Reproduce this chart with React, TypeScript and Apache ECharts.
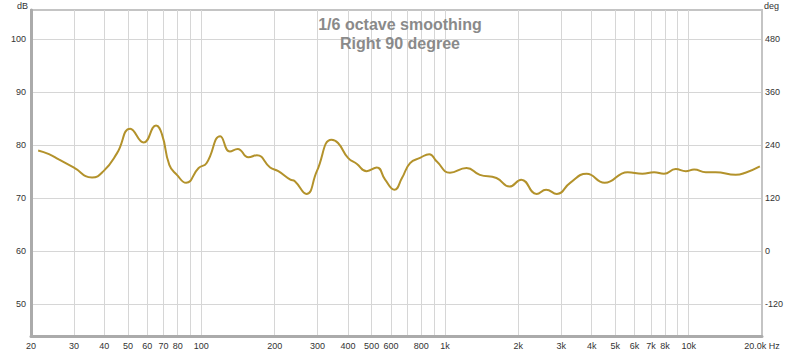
import React, { useEffect, useRef } from "react";
import * as echarts from "echarts";

const freqs = [
  21.4, 23.7, 26, 29.9, 35.6, 39.7, 45.1, 51.1, 58, 65.2, 69, 73.9, 79.4, 86.6, 97.5, 105,
  119.6, 131, 141, 156, 169, 191.6, 207, 232, 242, 270, 298, 342, 364, 400, 434, 477, 525,
  568, 620, 666, 719, 790, 862, 926, 1048, 1226, 1390, 1626, 1840, 2056, 2378, 2600, 2878,
  3264, 3814, 4520, 5620, 6460, 7210, 7920, 8850, 9730, 10530, 11760, 12900, 15600, 17100, 19600,
];
const spl = [
  79.0, 78.3, 77.3, 75.8, 73.9, 75.1, 78.5, 83.1, 80.5, 83.7, 82.0, 76.3, 74.4, 72.9, 75.7, 76.6,
  81.7, 78.8, 79.3, 77.7, 78.1, 75.8, 75.1, 73.5, 73.2, 70.8, 75.1, 81.0, 80.4, 77.6, 76.5, 75.1, 75.8,
  73.5, 71.6, 73.8, 76.6, 77.6, 78.3, 76.9, 74.8, 75.7, 74.4, 73.8, 72.2, 73.5, 70.8, 71.6, 70.8,
  72.9, 74.6, 72.9, 74.9, 74.6, 74.9, 74.6, 75.5, 75.1, 75.4, 74.9, 74.9, 74.4, 74.8, 76.0,
];

const gridFreqs = [
  20, 30, 40, 50, 60, 70, 80, 90, 100, 200, 300, 400, 500, 600, 700, 800, 900,
  1000, 2000, 3000, 4000, 5000, 6000, 7000, 8000, 9000, 10000, 20000,
];
const labelFreqs = [
  20, 30, 40, 50, 60, 70, 80, 100, 200, 300, 400, 500, 600, 800, 1000,
  2000, 3000, 4000, 5000, 6000, 7000, 8000, 10000, 20000,
];
const labelTexts = [
  "20", "30", "40", "50", "60", "70", "80", "100", "200", "300", "400", "500", "600", "800", "1k",
  "2k", "3k", "4k", "5k", "6k", "7k", "8k", "10k", "20.0k Hz",
];
const dbTicks = [50, 60, 70, 80, 90, 100];
const degTicks = [-120, 0, 120, 240, 360, 480];

const FONT = "'Liberation Sans', Arial, sans-serif";
const TICK_SIZE = 9;

export default function App() {
  const ref = useRef<HTMLDivElement>(null);
  useEffect(() => {
    if (!ref.current) return;
    const chart = echarts.init(ref.current, null, { renderer: "svg" });
    const labelFor = (v: number) => {
      for (let i = 0; i < labelFreqs.length; i++) {
        if (Math.abs(labelFreqs[i] - v) / labelFreqs[i] < 0.001) return labelTexts[i];
      }
      return "";
    };
    chart.setOption({
      animation: false,
      backgroundColor: "#ffffff",
      title: {
        text: "1/6 octave smoothing\nRight 90 degree",
        left: "center",
        top: 10,
        textStyle: {
          fontFamily: FONT,
          fontSize: 16,
          fontWeight: "bold",
          color: "#8a8a8a",
          lineHeight: 19,
          align: "center",
        },
      },
      grid: {
        left: 31,
        right: 38,
        top: 10,
        bottom: 16,
        show: true,
        borderColor: "#c4c4c4",
        borderWidth: 2,
      },
      xAxis: {
        type: "log",
        logBase: 10,
        min: 20,
        max: 20000,
        axisLine: { show: true, onZero: false, lineStyle: { color: "#ababab", width: 3 } },
        axisTick: { show: false, customValues: gridFreqs },
        splitLine: { show: true, lineStyle: { color: "#d6d6d6", width: 1 } },
        axisLabel: {
          customValues: labelFreqs,
          formatter: (v: number) => labelFor(v),
          fontFamily: FONT,
          fontSize: TICK_SIZE,
          color: "#333",
          margin: 5,
          showMinLabel: true,
          showMaxLabel: true,
          hideOverlap: false,
        },
      },
      yAxis: [
        {
          type: "value",
          min: 44,
          max: 105.5,
          position: "left",
          axisLine: { show: true, lineStyle: { color: "#ababab", width: 3 } },
          axisTick: { show: false, customValues: dbTicks },
          splitLine: { show: true, lineStyle: { color: "#d6d6d6", width: 1 } },
          axisLabel: {
            customValues: dbTicks,
            fontFamily: FONT,
            fontSize: TICK_SIZE,
            color: "#333",
            margin: 5,
          },
        },
        {
          type: "value",
          min: -192,
          max: 546,
          position: "right",
          axisLine: { show: true, lineStyle: { color: "#c4c4c4", width: 2 } },
          axisTick: { show: false, customValues: degTicks },
          splitLine: { show: false },
          axisLabel: {
            customValues: degTicks,
            fontFamily: FONT,
            fontSize: TICK_SIZE,
            color: "#333",
            margin: 3,
          },
        },
      ],
      graphic: [
        {
          type: "text",
          left: 17,
          top: 1,
          style: { text: "dB", fontFamily: FONT, fontSize: TICK_SIZE, fill: "#333" },
        },
        {
          type: "text",
          left: 764,
          top: 1,
          style: { text: "deg", fontFamily: FONT, fontSize: TICK_SIZE, fill: "#333" },
        },
      ],
      series: [
        {
          type: "line",
          data: freqs.map((f, i) => [f, spl[i]]),
          smooth: 0.5,
          showSymbol: false,
          symbol: "none",
          lineStyle: { color: "#b3922b", width: 2 },
          z: 5,
        },
      ],
    });
    return () => chart.dispose();
  }, []);
  return (
    <div
      ref={ref}
      style={{ position: "fixed", left: 0, top: 0, width: 800, height: 352 }}
    />
  );
}
